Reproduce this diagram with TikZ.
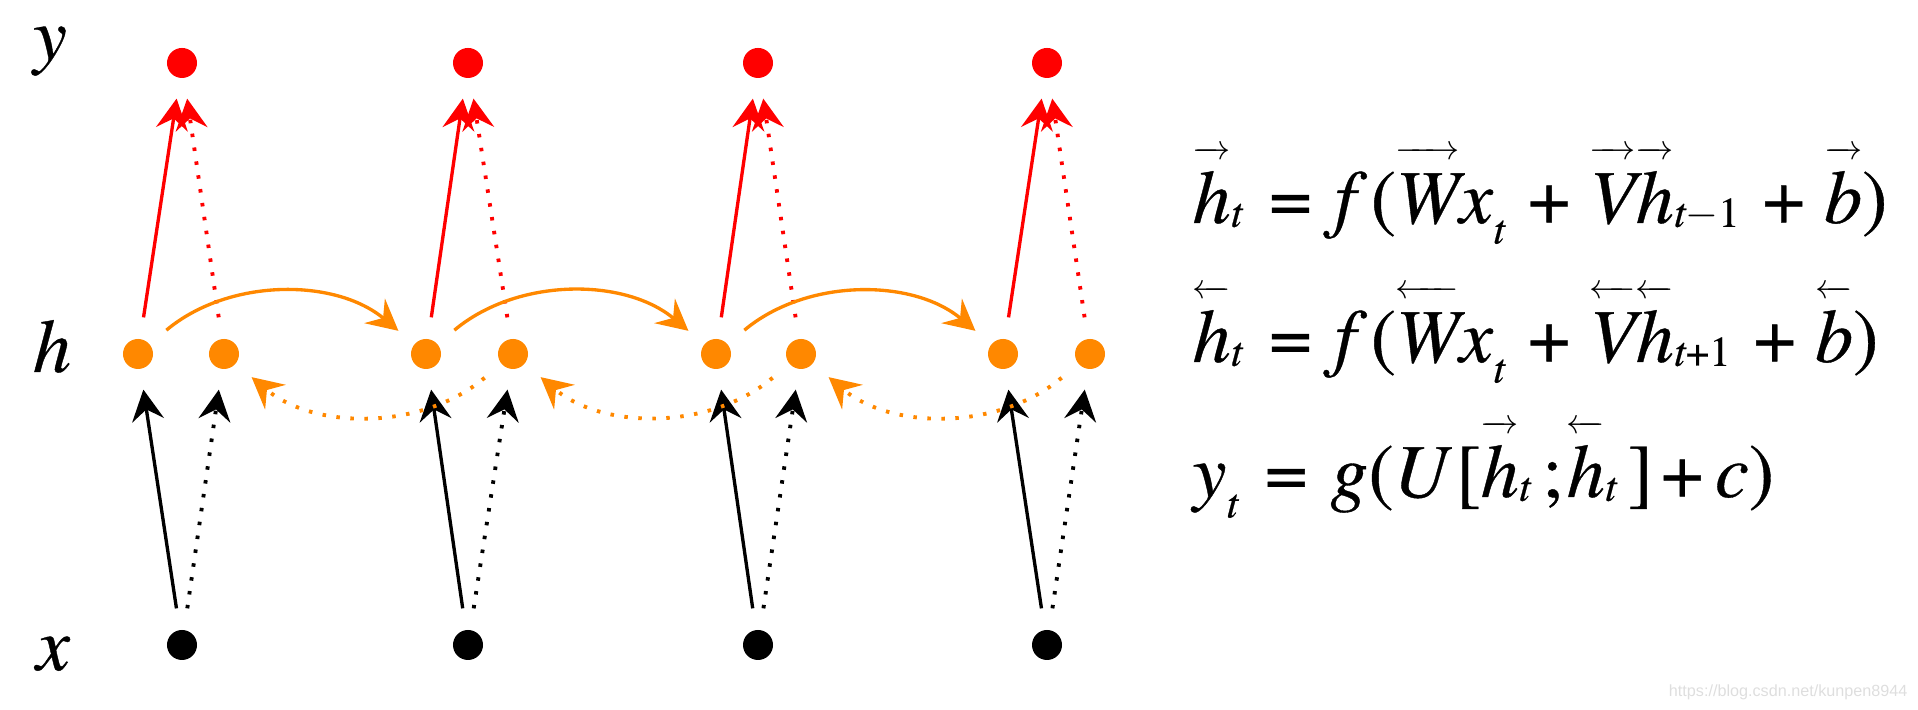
\documentclass[tikz,border=0pt]{standalone}
\usepackage{fontspec}
\setmainfont{texgyretermes}[Extension=.otf, UprightFont=*-regular, ItalicFont=*-italic, BoldFont=*-bold, BoldItalicFont=*-bolditalic, FakeBold=0.5]
\newfontfamily\wmfont{Liberation Sans}
\usetikzlibrary{arrows.meta}
\definecolor{orng}{RGB}{255,136,0}
\definecolor{rred}{RGB}{255,0,0}
\newsavebox\lbox
\newcommand{\accar}[2]{\sbox\lbox{\itshape #2}\leavevmode\rlap{\raisebox{0.84em}{\makebox[\wd\lbox]{\fontsize{10pt}{10pt}\selectfont#1}}}\usebox\lbox}
\newcommand{\fv}[1]{\accar{\rightarrowfill}{#1}}
\newcommand{\bv}[1]{\accar{\leftarrowfill}{#1}}
\newcommand{\sbh}[1]{\raisebox{-0.05em}{\fontsize{12pt}{12pt}\selectfont\itshape #1}}
\newcommand{\sbx}[1]{\raisebox{-0.27em}{\fontsize{12pt}{12pt}\selectfont\itshape #1}}
\tikzset{
  dotnode/.style={circle, minimum size=0.30cm, inner sep=0pt, outer sep=0pt},
  ydot/.style={dotnode, fill=rred},
  hdot/.style={dotnode, fill=orng},
  xdot/.style={dotnode, fill=black},
  conn/.style={line width=0.95pt, -{Stealth[length=0.31cm, width=0.32cm, inset=0.11cm]}, shorten >=0.21cm, shorten <=0.22cm},
  dots/.style={line width=1.1pt, dash pattern=on 0.035cm off 0.105cm},
  lbl/.style={anchor=base, inner sep=0pt, font=\fontsize{21.6pt}{26pt}\selectfont\itshape},
  eqn/.style={anchor=base west, inner sep=0pt, font=\fontsize{21.6pt}{26pt}\selectfont},
}
\begin{document}
\begin{tikzpicture}[x=0.01cm, y=0.01cm]
\useasboundingbox (0,0) rectangle (1918,710);
\node[lbl] (ly) at (50,650) {y};
\node[lbl] (lh) at (52,338) {h};
\node[lbl] (lx) at (53,40) {x};
\foreach \i/\xf/\xm/\xb in {1/138/182/224, 2/426/468/513, 3/716/758/801, 4/1003/1047/1090} {
  \node[ydot] (y\i) at (\xm,647) {};
  \node[hdot] (hf\i) at (\xf,356) {};
  \node[hdot] (hb\i) at (\xb,356) {};
  \node[xdot] (x\i) at (\xm,65) {};
}
\foreach \i in {1,...,4} {
  \draw[conn, black] (x\i) -- (hf\i);
  \draw[conn, black, dots] (x\i) -- (hb\i);
  \draw[conn, rred] (hf\i) -- (y\i);
  \draw[conn, rred, dots] (hb\i) -- (y\i);
}
\foreach \i/\j in {1/2,2/3,3/4} {
  \draw[conn, orng] (hf\i) to[out=40,in=140] (hf\j);
  \draw[conn, orng, dots] (hb\j) to[out=-140,in=-40] (hb\i);
}
\node[eqn] (e1) at (1192,487) {\fv{h}\sbh{t}\hspace{0.35em}=\hspace{0.3em}\textit{f}\kern0.05em(\fv{W}\textit{x}\sbx{t}\hspace{0.3em}+\hspace{0.25em}\fv{V}\fv{h}\sbh{t{\upshape$-$1}}\hspace{0.3em}+\hspace{0.25em}\fv{b})};
\node[eqn] (e2) at (1192,348) {\bv{h}\sbh{t}\hspace{0.35em}=\hspace{0.3em}\textit{f}\kern0.05em(\bv{W}\textit{x}\sbx{t}\hspace{0.3em}+\hspace{0.25em}\bv{V}\bv{h}\sbh{t{\upshape+1}}\hspace{0.3em}+\hspace{0.25em}\bv{b})};
\node[eqn] (e3) at (1192,213) {\textit{y}\sbx{t}\hspace{0.35em}=\hspace{0.3em}\textit{g}(\textit{U}\kern0.05em[\fv{h}\sbh{t}\kern0.15em;\kern0.05em\bv{h}\sbh{t}\kern0.15em]\kern0.1em+\kern0.15em\textit{c})};
\node[anchor=base east, inner sep=0pt, text=black!13, font=\wmfont\fontsize{4.6pt}{5pt}\selectfont] (wm) at (1908,13) {https://blog.csdn.net/kunpen8944};
\end{tikzpicture}
\end{document}
